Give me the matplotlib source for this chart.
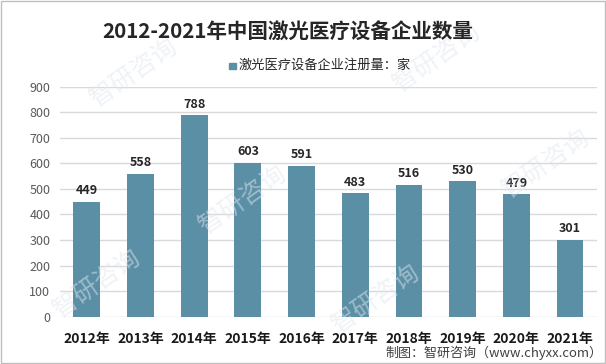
import matplotlib.pyplot as plt
from matplotlib.patches import Rectangle

plt.rcParams['font.family'] = ['Noto Sans CJK SC', 'DejaVu Sans']

# 数据
years = ['2012年', '2013年', '2014年', '2015年', '2016年',
         '2017年', '2018年', '2019年', '2020年', '2021年']
counts = [449, 558, 788, 603, 591, 483, 516, 530, 479, 301]
yticks = [0, 100, 200, 300, 400, 500, 600, 700, 800, 900]

bar_color = '#5b8fa6'

fig = plt.figure(figsize=(6.06, 3.64), dpi=100)
ax = fig.add_axes([0.099, 0.130, 0.886, 0.632])

x = range(len(years))
ax.bar(x, counts, width=0.5, color=bar_color, zorder=3)

# 数值标签
for xi, v in zip(x, counts):
    ax.text(xi, v + 18, str(v), ha='center', va='bottom', fontsize=9,
            fontweight='bold', color='#262626', zorder=4)

ax.set_xlim(-0.5, len(years) - 0.5)
ax.set_ylim(0, 900)
ax.set_yticks(yticks)
ax.set_yticklabels([str(t) for t in yticks], fontsize=9, color='#595959')
ax.set_xticks(list(x))
ax.set_xticklabels(years, fontsize=10, fontweight='bold', color='#1a1a1a')
ax.tick_params(axis='both', length=0)
ax.tick_params(axis='y', pad=7)
ax.tick_params(axis='x', pad=11)
ax.grid(axis='y', color='#d9d9d9', linewidth=1, zorder=0)
for s in ax.spines.values():
    s.set_visible(False)

# 标题和图例
fig.text(0.474, 0.912, '2012-2021年中国激光医疗设备企业数量', ha='center',
         va='center', fontsize=14.8, fontweight='bold', color='#262626')
fig.patches.append(Rectangle((0.378, 0.810), 0.0116, 0.017,
                             transform=fig.transFigure, color=bar_color))
fig.text(0.394, 0.820, '激光医疗设备企业注册量：家', ha='left', va='center',
         fontsize=9.5, color='#262626')

# 来源
fig.text(0.994, 0.030, '制图：智研咨询（www.chyxx.com）', ha='right',
         va='center', fontsize=9.4, color='#404040')

# 水印
for wx, wy in [(0.22, 0.80), (0.72, 0.84), (0.40, 0.45),
               (0.90, 0.55), (0.16, 0.22), (0.62, 0.18)]:
    fig.text(wx, wy, '智研咨询', ha='center', va='center', fontsize=18,
             rotation=35, color='#dfe6ee', alpha=0.5, zorder=0)

# 外框
fig.patches.append(Rectangle((0.001, 0.002), 0.997, 0.995,
                             transform=fig.transFigure, fill=False,
                             edgecolor='#bfbfbf', linewidth=1))

fig.savefig('out.png', dpi=100)
